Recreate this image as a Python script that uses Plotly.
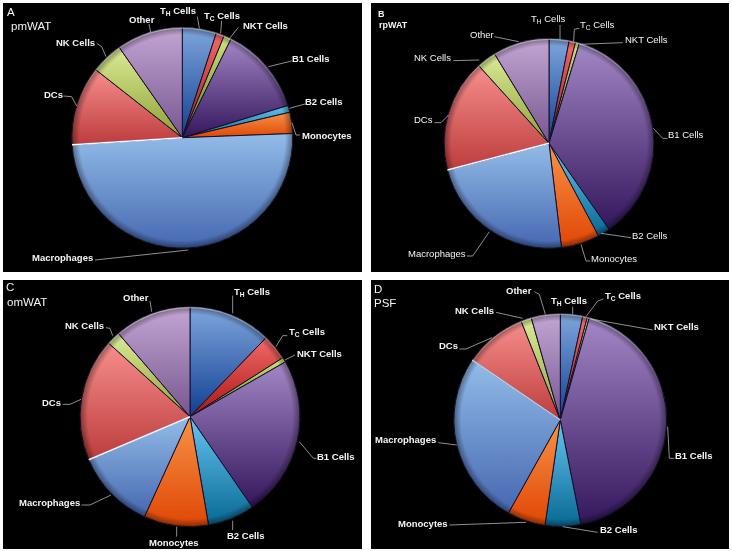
import math
from urllib.parse import quote

import plotly.graph_objects as go

W, H = 732, 551

cells = ["T<sub>H</sub> Cells", "T<sub>C</sub> Cells", "NKT Cells", "B1 Cells", "B2 Cells",
         "Monocytes", "Macrophages", "DCs", "NK Cells", "Other"]

# percent of cells per depot
pmwat = [5.0, 1.2, 1.1, 13.0, 1.0, 3.1, 49.6, 11.6, 4.7, 9.7]
rpwat = [3.1, 1.0, 0.6, 35.6, 1.9, 5.9, 22.8, 17.4, 3.0, 8.7]
omwat = [12.2, 3.8, 0.7, 23.7, 6.9, 9.5, 11.8, 18.1, 2.0, 11.3]
psf = [3.4, 0.7, 0.3, 42.5, 5.4, 5.8, 26.4, 9.5, 1.6, 4.4]

# top and bottom colour of each slice gradient
grad_top = ["#7fa6dc", "#f26a68", "#cfe47c", "#a487c6", "#66c6f0",
            "#f79448", "#93bce8", "#f68f8d", "#dcea98", "#c4a6d4"]
grad_bottom = ["#103f92", "#a81414", "#5c7c12", "#33165c", "#086894",
               "#e04604", "#4567b0", "#bd3c3c", "#8ca232", "#76568f"]

# panel: (title, sub, values, rect, centre, radius)
panels = [
    ("A", "pmWAT", pmwat, (3, 3, 362, 272), (182.3, 137.7), 110.5),
    ("B", "rpWAT", rpwat, (371, 3, 729, 272), (549, 143.3), 105),
    ("C", "omWAT", omwat, (3, 280, 362, 549), (190, 416.7), 110),
    ("D", "PSF", psf, (371, 280, 729, 549), (560.3, 420), 106.5),
]

# label centres, in panel pixels times 3 (same order as cells)
label_pos = [
    [(533, 32), (666, 47), (796, 75), (933, 176), (973, 306), (980, 405), (187, 771), (160, 282), (225, 128), (425, 58)],
    [(547, 58), (695, 74), (840, 118), (960, 404), (852, 705), (745, 775), (212, 760), (172, 357), (200, 173), (347, 103)],
    [(755, 52), (920, 172), (957, 235), (1008, 545), (737, 782), (523, 802), (148, 682), (155, 381), (253, 151), (407, 66)],
    [(608, 78), (770, 62), (932, 155), (985, 542), (758, 764), (170, 744), (118, 493), (246, 212), (325, 105), (458, 45)],
]
leaders = [
    [[(598, 85), (592, 50)], [(662, 100), (665, 62)], [(685, 120), (715, 82)], [(805, 200), (875, 183)],
     [(868, 325), (915, 312)], [(876, 368), (888, 405), (900, 405)], [(285, 780), (565, 750)],
     [(190, 288), (215, 290), (230, 318)], [(290, 130), (305, 140), (318, 170)], [(447, 72), (452, 97)]],
    [[(582, 75), (582, 118)], [(640, 85), (625, 88), (623, 125)], [(640, 133), (770, 128)],
     [(862, 385), (890, 415), (905, 415)], [(705, 700), (795, 713)], [(645, 733), (660, 783), (672, 783)],
     [(370, 695), (320, 768), (302, 768)], [(205, 368), (225, 368), (248, 345)], [(262, 182), (340, 180)],
     [(385, 110), (458, 125)]],
    [[(698, 62), (698, 115)], [(828, 215), (848, 182), (862, 182)], [(855, 255), (885, 240)],
     [(898, 500), (940, 550), (950, 550)], [(698, 737), (698, 765)], [(530, 755), (530, 785)],
     [(245, 690), (270, 690), (333, 660)], [(188, 388), (210, 388), (243, 373)],
     [(318, 158), (330, 160), (338, 182)], [(450, 78), (455, 110)]],
    [[(620, 95), (620, 118)], [(712, 72), (695, 78), (660, 125)], [(675, 132), (860, 165)],
     [(905, 455), (910, 550), (925, 550)], [(590, 755), (695, 772)], [(250, 750), (480, 742)],
     [(217, 503), (272, 510)], [(280, 222), (300, 222), (378, 188)], [(390, 112), (470, 130)],
     [(505, 50), (520, 58), (538, 118)]],
]
title_pos = [((33, 35), (93, 77)), ((45, 42), (82, 76)), ((30, 35), (82, 82)), ((35, 42), (58, 84))]
offsets = [(0, 0), (366, 0), (0, 275), (366, 275)]
edge_colors = ["#f4fbff", "#eef8ff", "#e8f6ff", "#b4d4f0"]

rim = ("<svg xmlns='http://www.w3.org/2000/svg' viewBox='0 0 200 200'><defs>"
       "<radialGradient id='r'><stop offset='0.93' stop-color='#000' stop-opacity='0'/>"
       "<stop offset='1' stop-color='#000' stop-opacity='0.4'/></radialGradient>"
       "<linearGradient id='l' x1='0' y1='0' x2='0' y2='1'><stop offset='0' stop-color='#fff' stop-opacity='0.4'/>"
       "<stop offset='0.35' stop-color='#fff' stop-opacity='0'/></linearGradient></defs>"
       "<circle cx='100' cy='100' r='100' fill='url(#r)'/>"
       "<circle cx='100' cy='100' r='99.2' fill='none' stroke='url(#l)' stroke-width='1.4'/></svg>")
rim_uri = "data:image/svg+xml," + quote(rim)


def px(x):
    return x / W


def py(y):
    return 1 - y / H


fig = go.Figure()
shapes, annots, images = [], [], []

for p, (title, sub, values, rect, (cx, cy), r) in enumerate(panels):
    shapes.append(dict(type="rect", xref="paper", yref="paper", layer="below",
                       x0=px(rect[0]), x1=px(rect[2]), y0=py(rect[1]), y1=py(rect[3]),
                       fillcolor="black", line_width=0))
    fig.add_trace(go.Pie(
        values=values,
        labels=cells,
        sort=False,
        direction="clockwise",
        rotation=0,
        textinfo="none",
        showlegend=False,
        domain=dict(x=[px(cx - r), px(cx + r)], y=[py(cy + r), py(cy - r)]),
        marker=dict(colors=grad_bottom, line=dict(color="#14102a", width=1)),
    ))
    images.append(dict(source=rim_uri, xref="paper", yref="paper", layer="above",
                       x=px(cx - r), y=py(cy - r), sizex=2 * r / W, sizey=2 * r / H,
                       xanchor="left", yanchor="top", sizing="stretch"))

    # white edge along the top of the macrophage slice
    end = math.radians(sum(values[:7]) / sum(values) * 360)
    shapes.append(dict(type="line", xref="paper", yref="paper", layer="above",
                       x0=px(cx), y0=py(cy),
                       x1=px(cx + r * math.sin(end)), y1=py(cy - r * math.cos(end)),
                       line=dict(color=edge_colors[p], width=1.5)))

    ox, oy = offsets[p]
    # panel B is set in a thinner face than the others
    thin = p == 1
    for i, name in enumerate(cells):
        lx, ly = label_pos[p][i]
        annots.append(dict(x=px(ox + lx / 3), y=py(oy + ly / 3), xref="paper", yref="paper",
                           text=name if thin else "<b>" + name + "</b>", showarrow=False,
                           xanchor="center", yanchor="middle",
                           font=dict(family="Liberation Sans", size=9.5, color="#f4f4f4")))
        pts = leaders[p][i]
        path = "M" + " L".join(f"{px(ox + a / 3):.5f},{py(oy + b / 3):.5f}" for a, b in pts)
        shapes.append(dict(type="path", xref="paper", yref="paper", layer="above", path=path,
                           line=dict(color="#cccccc", width=0.7)))

    (tx, ty), (sx, sy) = title_pos[p]
    size = 9 if thin else 11.5
    for txt, (a, b) in ((title, (tx, ty)), (sub, (sx, sy))):
        annots.append(dict(x=px(ox + a / 3), y=py(oy + b / 3), xref="paper", yref="paper",
                           text="<b>" + txt + "</b>" if thin else txt, showarrow=False,
                           xanchor="center", yanchor="middle",
                           font=dict(family="Liberation Sans", size=size, color="#f4f4f4")))

fig.update_layout(width=W, height=H, margin=dict(l=0, r=0, t=0, b=0), paper_bgcolor="white",
                  shapes=shapes, annotations=annots, images=images)

# Office style gradients: each slice fades from top to bottom of its own box
post = """
document.body.style.margin = '0';
var tops = %s, bottoms = %s;
var gd = document.getElementById('{plot_id}');
var svg = gd.querySelector('svg.main-svg');
var ns = 'http://www.w3.org/2000/svg';
var defs = document.createElementNS(ns, 'defs');
tops.forEach(function (c, i) {
  var g = document.createElementNS(ns, 'linearGradient');
  g.setAttribute('id', 'slice' + i);
  g.setAttribute('x1', '0'); g.setAttribute('y1', '0');
  g.setAttribute('x2', '0'); g.setAttribute('y2', '1');
  [[0, c], [1, bottoms[i]]].forEach(function (s) {
    var st = document.createElementNS(ns, 'stop');
    st.setAttribute('offset', s[0]);
    st.setAttribute('stop-color', s[1]);
    g.appendChild(st);
  });
  defs.appendChild(g);
});
svg.insertBefore(defs, svg.firstChild);
gd.querySelectorAll('.trace').forEach(function (t) {
  t.querySelectorAll('.slice path.surface').forEach(function (p, i) {
    p.style.fill = 'url(#slice' + i + ')';
  });
});
gd.style.filter = 'blur(0.35px)';
""" % (grad_top, grad_bottom)

fig.write_html("out.html", post_script=post, config=dict(displayModeBar=False))
